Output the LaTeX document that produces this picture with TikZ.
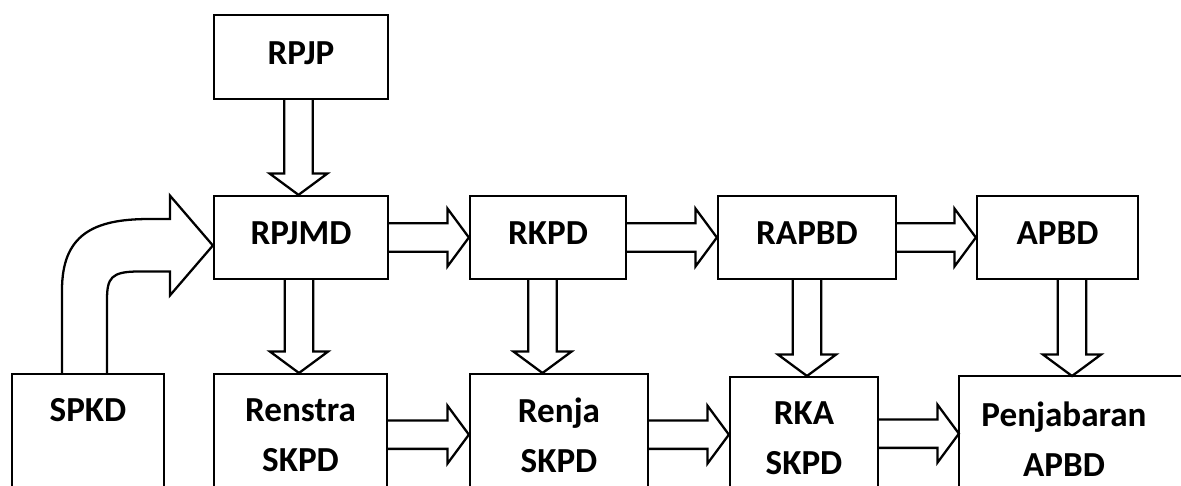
\documentclass[tikz,border=0pt]{standalone}
\usepackage{fontspec}
\setmainfont{Carlito}
\usetikzlibrary{calc}

\tikzset{
  box/.style={draw, line width=1.3pt, inner sep=0pt, align=center,
    font=\fontsize{20}{28.5}\selectfont\bfseries, text depth=5pt},
  blockarr/.style={draw, line width=1.3pt, line join=miter},
}
\def\px{0.569pt}
% block arrow: shaft half width, head half width, head length
\def\sw{8.1pt}
\def\hw{16.5pt}
\def\hl{12.2pt}

% right pointing block arrow, [#1] moves it down
\newcommand{\harr}[3][0]{%
  \draw[blockarr] let \p1=($(#2.east)+(0,#1)$), \p2=(#3.west) in
    (\x1,\y1+\sw) -- (\x2-\hl,\y1+\sw) -- (\x2-\hl,\y1+\hw) -- (\x2,\y1)
    -- (\x2-\hl,\y1-\hw) -- (\x2-\hl,\y1-\sw) -- (\x1,\y1-\sw);}
% down pointing block arrow, [#1] moves it right
\newcommand{\varr}[3][0]{%
  \draw[blockarr] let \p1=($(#2.south)+(#1,0)$), \p2=(#3.north) in
    (\x1-\sw,\y1) -- (\x1-\sw,\y2+\hl) -- (\x1-\hw,\y2+\hl) -- (\x1,\y2)
    -- (\x1+\hw,\y2+\hl) -- (\x1+\sw,\y2+\hl) -- (\x1+\sw,\y1);}

\begin{document}
\begin{tikzpicture}[x=0.02cm, y=-0.02cm]
  \path[use as bounding box, clip] (0,0) rectangle (1181,485);

  \node[box, minimum width=174*\px, minimum height=84*\px] (rpjp) at (301,57) {RPJP};

  % top row
  \foreach \name/\xc/\bw/\txt in {rpjmd/301/174/RPJMD, rkpd/548/156/RKPD,
      rapbd/807/178/RAPBD, apbd/1057.5/161/APBD} {
    \node[box, minimum width=\bw*\px, minimum height=83*\px] (\name) at (\xc,237.5) {\txt};
  }

  % bottom row, boxes run past the lower edge
  \foreach \name/\xc/\yt/\bw/\txt in {spkd/88/373/152/{SPKD\\\mbox{}},
      renstra/300.5/373/173/{Renstra\\SKPD}, renja/559/373/178/{Renja\\SKPD},
      rka/804/376/148/{RKA\\SKPD}} {
    \node[box, anchor=north, minimum width=\bw*\px, minimum height=130*\px] (\name) at (\xc,\yt) {\txt};
  }
  \node[box, draw=none, anchor=north, minimum width=208*\px, minimum height=132*\px] (penjab) at (1064,376) {Penjabaran\\APBD};
  \draw[line width=1.3pt] (penjab.south west) -- (penjab.north west) -- ++(260,0);

  % arrows
  \varr[-2.5]{rpjp}{rpjmd}
  \harr{rpjmd}{rkpd}
  \harr{rkpd}{rapbd}
  \harr{rapbd}{apbd}
  \varr[-2]{rpjmd}{renstra}
  \varr[-5.5]{rkpd}{renja}
  \varr{rapbd}{rka}
  \varr[14.5]{apbd}{penjab}
  \harr[-4.5]{renstra}{renja}
  \harr[-4.5]{renja}{rka}
  \harr[-8.5]{rka}{penjab}

  % bent arrow from SPKD
  \draw[blockarr] let \p1=(spkd.north), \p2=(rpjmd.west) in
    (\x1-26*\px,\y1) -- (\x1-26*\px,\y1+83*\px)
    .. controls (\x1-26*\px,\y2+2.5*\px) and (\x1+5*\px,\y2+18.5*\px) .. (\x2-64*\px,\y2+18.5*\px)
    -- (\x2-43*\px,\y2+18.5*\px) -- (\x2-43*\px,\y2+42*\px) -- (\x2,\y2-8*\px)
    -- (\x2-43*\px,\y2-58*\px) -- (\x2-43*\px,\y2-34*\px) -- (\x2-74*\px,\y2-34*\px)
    .. controls (\x2-102*\px,\y2-34*\px) and (\x1+19*\px,\y2-40.5*\px) .. (\x1+19*\px,\y2-62.5*\px)
    -- (\x1+19*\px,\y1);
\end{tikzpicture}
\end{document}
